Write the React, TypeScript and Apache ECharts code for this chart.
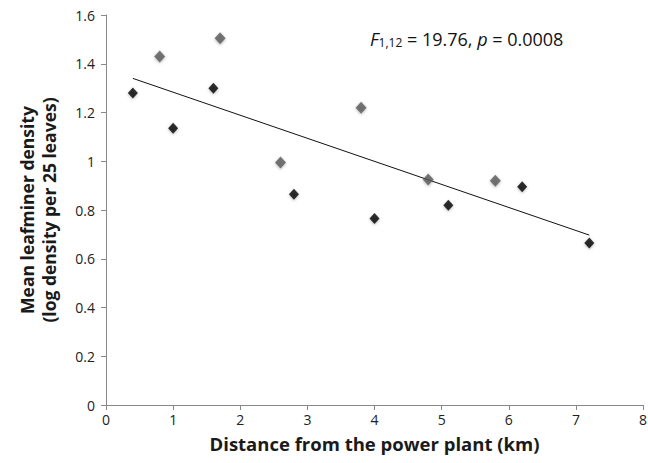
import React, { useEffect, useRef } from "react";
import * as echarts from "echarts";

const blackX = [0.4, 1.0, 1.6, 2.8, 4.0, 5.1, 6.2, 7.2];
const blackY = [1.28, 1.135, 1.3, 0.865, 0.765, 0.82, 0.895, 0.665];
const grayX = [0.8, 1.7, 2.6, 3.8, 4.8, 5.8];
const grayY = [1.43, 1.505, 0.995, 1.22, 0.925, 0.92];
const trendX = [0.4, 7.2];
const trendY = [1.34, 0.697];
const xTitle = "Distance from the power plant (km)";
const yTitle = "Mean leafminer density\n(log density per 25 leaves)";

const FONT = "'Open Sans', 'Noto Sans', sans-serif";

export default function App() {
  const ref = useRef<HTMLDivElement>(null);
  useEffect(() => {
    if (!ref.current) return;
    const chart = echarts.init(ref.current, null, { renderer: "svg" });
    const zip = (xs: number[], ys: number[]) => xs.map((x, i) => [x, ys[i]]);
    chart.setOption({
      animation: false,
      backgroundColor: "#fff",
      grid: { left: 106, top: 15, right: 5, bottom: 58, containLabel: false, outerBoundsMode: "none" },
      xAxis: {
        type: "value",
        min: 0,
        max: 8,
        interval: 1,
        name: xTitle,
        nameLocation: "middle",
        nameGap: 29,
        nameTextStyle: { fontFamily: FONT, fontWeight: "bold", fontSize: 18.5, color: "#1a1a1a" },
        axisLine: { show: true, lineStyle: { color: "#888", width: 1 } },
        axisTick: { show: true, inside: false, length: 5, lineStyle: { color: "#888" } },
        axisLabel: { fontFamily: FONT, fontSize: 14, color: "#222", margin: 7 },
        splitLine: { show: false },
      },
      yAxis: {
        type: "value",
        min: 0,
        max: 1.6,
        interval: 0.2,
        name: yTitle,
        nameLocation: "middle",
        nameGap: 46,
        nameTextStyle: { fontFamily: FONT, fontWeight: "bold", fontSize: 17.5, color: "#1a1a1a", lineHeight: 22 },
        axisLine: { show: true, lineStyle: { color: "#888", width: 1 } },
        axisTick: { show: true, inside: false, length: 5, lineStyle: { color: "#888" } },
        axisLabel: {
          fontFamily: FONT,
          fontSize: 14,
          color: "#222",
          margin: 11,
          formatter: (v: number) => String(Math.round(v * 10) / 10),
        },
        splitLine: { show: false },
      },
      series: [
        {
          type: "line",
          data: zip(trendX, trendY),
          symbol: "none",
          lineStyle: { color: "#111", width: 1 },
          z: 1,
        },
        {
          type: "scatter",
          data: zip(grayX, grayY),
          symbol: "diamond",
          symbolSize: [11, 12],
          itemStyle: { color: "#595959", shadowBlur: 3, shadowColor: "rgba(0,0,0,0.35)", shadowOffsetY: 1 },
          z: 3,
        },
        {
          type: "scatter",
          data: zip(blackX, blackY),
          symbol: "diamond",
          symbolSize: [10, 11],
          itemStyle: { color: "#000", shadowBlur: 3, shadowColor: "rgba(0,0,0,0.35)", shadowOffsetY: 1 },
          z: 3,
        },
      ],
      graphic: [
        {
          type: "text",
          left: 370,
          top: 30,
          style: {
            text: "{i|F}{s|1,12}{n| = 19.76, }{i|p}{n| = 0.0008}",
            rich: {
              i: { fontFamily: FONT, fontStyle: "italic", fontSize: 18, fill: "#111", verticalAlign: "bottom" },
              s: { fontFamily: FONT, fontSize: 12, fill: "#111", padding: [9, 0, 0, 0], verticalAlign: "bottom" },
              n: { fontFamily: FONT, fontSize: 18, fill: "#111", verticalAlign: "bottom" },
            },
          },
        },
      ],
    });
    return () => chart.dispose();
  }, []);
  return (
    <div
      ref={ref}
      style={{ position: "absolute", left: 0, top: 0, width: 648, height: 463 }}
    />
  );
}
